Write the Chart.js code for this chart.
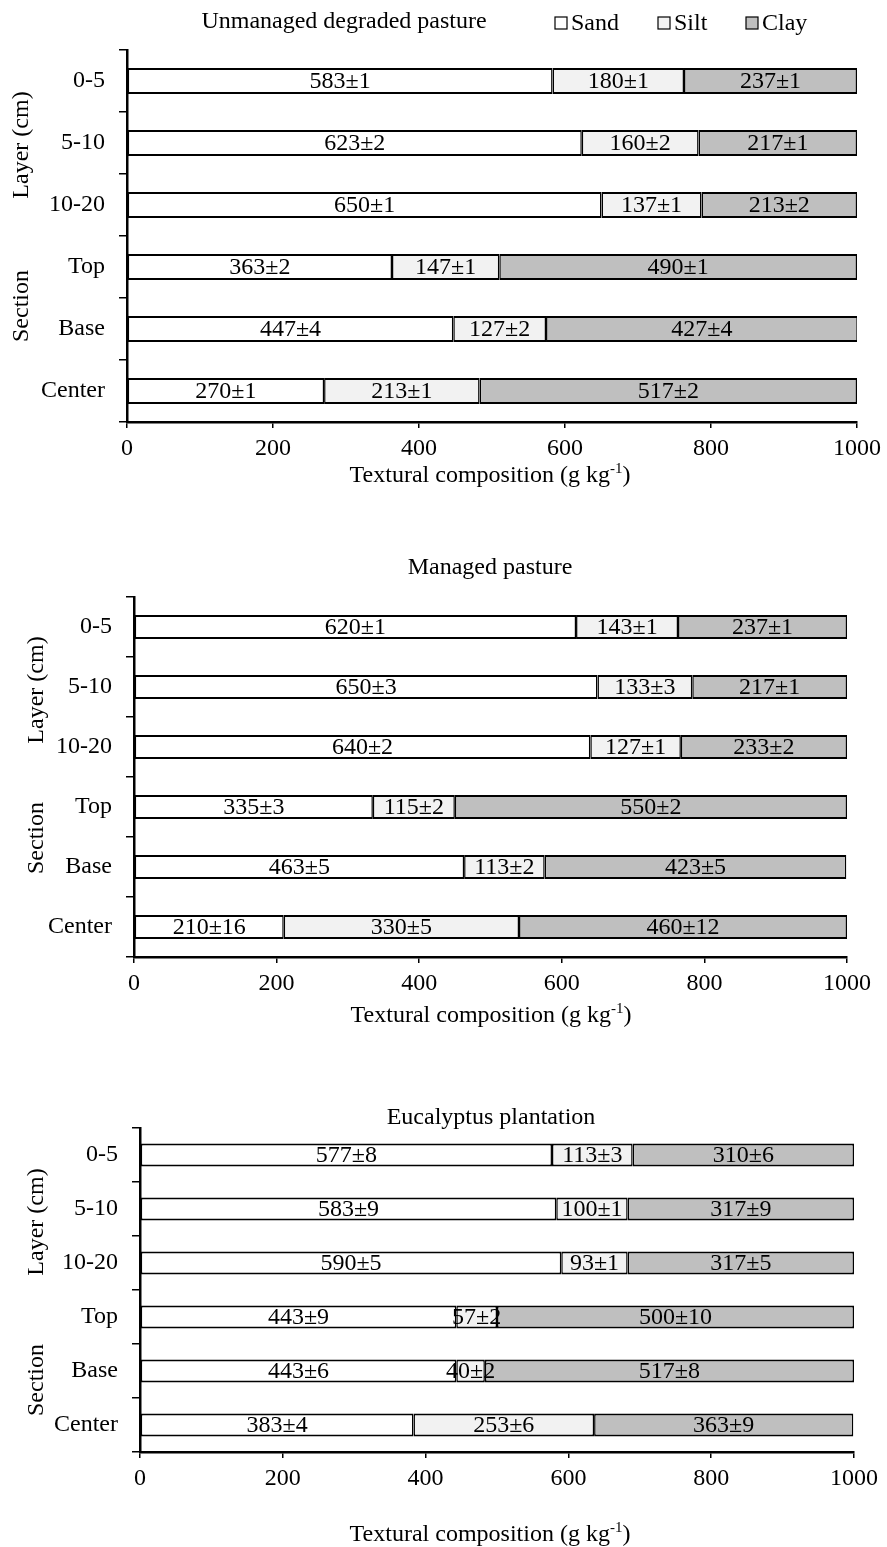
<!DOCTYPE html>
<html>
<head>
<meta charset="utf-8">
<script src="https://cdn.jsdelivr.net/npm/chart.js@4.4.0/dist/chart.umd.min.js"></script>
<style>
  html, body { margin: 0; padding: 0; background: #fff; }
  body { width: 887px; height: 1547px; position: relative; overflow: hidden; }
  .panel { position: absolute; left: 0; width: 887px; }
</style>
</head>
<body>
<div class="panel" style="top:0px;height:500px"><canvas id="c1"></canvas></div>
<div class="panel" style="top:500px;height:530px"><canvas id="c2"></canvas></div>
<div class="panel" style="top:1030px;height:517px"><canvas id="c3"></canvas></div>
<script>
// ---------- DATA ----------
const categories = ['0-5', '5-10', '10-20', 'Top', 'Base', 'Center'];
const seriesNames = ['Sand', 'Silt', 'Clay'];
const xTicks = [0, 200, 400, 600, 800, 1000];

// Unmanaged degraded pasture
const p1Sand = [583, 623, 650, 363, 447, 270];
const p1SandErr = [1, 2, 1, 2, 4, 1];
const p1Silt = [180, 160, 137, 147, 127, 213];
const p1SiltErr = [1, 2, 1, 1, 2, 1];
const p1Clay = [237, 217, 213, 490, 427, 517];
const p1ClayErr = [1, 1, 2, 1, 4, 2];

// Managed pasture
const p2Sand = [620, 650, 640, 335, 463, 210];
const p2SandErr = [1, 3, 2, 3, 5, 16];
const p2Silt = [143, 133, 127, 115, 113, 330];
const p2SiltErr = [1, 3, 1, 2, 2, 5];
const p2Clay = [237, 217, 233, 550, 423, 460];
const p2ClayErr = [1, 1, 2, 2, 5, 12];

// Eucalyptus plantation
const p3Sand = [577, 583, 590, 443, 443, 383];
const p3SandErr = [8, 9, 5, 9, 6, 4];
const p3Silt = [113, 100, 93, 57, 40, 253];
const p3SiltErr = [3, 1, 1, 2, 2, 6];
const p3Clay = [310, 317, 317, 500, 517, 363];
const p3ClayErr = [6, 9, 5, 10, 8, 9];

// ---------- STYLE ----------
const FONT = "'Liberation Serif', 'Times New Roman', serif";
const FS = 24;
const COLORS = ['#ffffff', '#f2f2f2', '#bfbfbf'];

Chart.defaults.font.family = FONT;
Chart.defaults.font.size = FS;
Chart.defaults.color = '#000';

const panelPlugin = {
  id: 'panelText',
  afterDatasetsDraw(chart) {
    const ctx = chart.ctx;
    ctx.save();
    ctx.fillStyle = '#000';
    ctx.font = FS + 'px ' + FONT;
    ctx.textAlign = 'center';
    ctx.textBaseline = 'middle';
    chart.data.datasets.forEach((ds, i) => {
      const meta = chart.getDatasetMeta(i);
      meta.data.forEach((bar, j) => {
        const cx = (bar.x + bar.base) / 2;
        ctx.fillText(ds.data[j] + '\u00b1' + ds.errors[j], cx, bar.y + 1);
      });
    });
    ctx.restore();
  },
  afterDraw(chart, args, o) {
    const ctx = chart.ctx;
    ctx.save();
    ctx.fillStyle = '#000';
    ctx.font = FS + 'px ' + FONT;
    ctx.textAlign = 'center';
    ctx.textBaseline = 'middle';
    // panel title
    ctx.fillText(o.title, o.titleX, o.titleY);
    // y group titles
    o.groups.forEach(g => {
      ctx.save();
      ctx.translate(o.groupX, g.y);
      ctx.rotate(-Math.PI / 2);
      ctx.fillText(g.text, 0, 0);
      ctx.restore();
    });
    // x axis title with superscript
    const t1 = 'Textural composition (g kg', sup = '-1', t3 = ')';
    ctx.textAlign = 'left';
    ctx.textBaseline = 'alphabetic';
    ctx.font = FS + 'px ' + FONT;
    const w1 = ctx.measureText(t1).width;
    const w3 = ctx.measureText(t3).width;
    ctx.font = '15px ' + FONT;
    const w2 = ctx.measureText(sup).width;
    let x = o.xTitleX - (w1 + w2 + w3) / 2;
    const by = o.xTitleY + 8;
    ctx.font = FS + 'px ' + FONT;
    ctx.fillText(t1, x, by);
    x += w1;
    ctx.font = '15px ' + FONT;
    ctx.fillText(sup, x, by - 9);
    x += w2;
    ctx.font = FS + 'px ' + FONT;
    ctx.fillText(t3, x, by);
    // legend
    if (o.legend) {
      ctx.textBaseline = 'middle';
      chart.data.datasets.forEach((ds, i) => {
        const lx = o.legend.x[i], ly = o.legend.y;
        ctx.fillStyle = ds.backgroundColor;
        ctx.fillRect(lx, ly - 6, 12, 12);
        ctx.strokeStyle = '#000';
        ctx.lineWidth = 1.2;
        ctx.strokeRect(lx, ly - 6, 12, 12);
        ctx.fillStyle = '#000';
        ctx.fillText(ds.label, lx + 16, ly + 1);
      });
    }
    ctx.restore();
  }
};

function makeChart(id, H, area, barPct, sets, textOpts) {
  const padL = 4, xH = 34;
  const yW = area.left - padL;
  return new Chart(document.getElementById(id), {
    type: 'bar',
    data: {
      labels: categories,
      datasets: sets.map((s, i) => ({
        label: seriesNames[i],
        data: s[0],
        errors: s[1],
        backgroundColor: COLORS[i],
        borderColor: '#000',
        borderWidth: { top: 2, bottom: 2, left: 1.5, right: 1.5 },
        borderSkipped: false,
        barPercentage: barPct,
        categoryPercentage: 1.0
      }))
    },
    options: {
      indexAxis: 'y',
      responsive: true,
      maintainAspectRatio: false,
      animation: false,
      events: [],
      layout: {
        padding: {
          left: padL,
          right: 887 - area.right,
          top: area.top,
          bottom: H - area.bottom - xH
        }
      },
      plugins: {
        legend: { display: false },
        title: { display: false },
        tooltip: { enabled: false },
        panelText: textOpts
      },
      scales: {
        x: {
          type: 'linear',
          stacked: true,
          min: 0,
          max: 1000,
          afterFit: s => { s.height = xH; },
          afterBuildTicks: s => { s.ticks = xTicks.map(v => ({ value: v })); },
          ticks: { padding: 6, maxRotation: 0, font: { size: FS }, callback: v => String(v) },
          grid: { drawOnChartArea: false, color: '#000', lineWidth: 1.5, tickLength: 6 },
          border: { color: '#000', width: 2.5 }
        },
        y: {
          type: 'category',
          stacked: true,
          offset: true,
          afterFit: s => { s.width = yW; },
          ticks: { padding: 14, autoSkip: false, font: { size: FS } },
          grid: { offset: true, drawOnChartArea: false, color: '#000', lineWidth: 1.5, tickLength: 8 },
          border: { color: '#000', width: 2.5 }
        }
      }
    },
    plugins: [panelPlugin]
  });
}

makeChart('c1', 500, { left: 127, right: 857, top: 50, bottom: 422 }, 0.42,
  [[p1Sand, p1SandErr], [p1Silt, p1SiltErr], [p1Clay, p1ClayErr]],
  {
    title: 'Unmanaged degraded pasture', titleX: 344, titleY: 22,
    groupX: 22, groups: [{ text: 'Layer (cm)', y: 145 }, { text: 'Section', y: 306 }],
    xTitleX: 490, xTitleY: 474,
    legend: { x: [555, 658, 746], y: 23 }
  });

makeChart('c2', 530, { left: 134, right: 847, top: 97, bottom: 457 }, 0.40,
  [[p2Sand, p2SandErr], [p2Silt, p2SiltErr], [p2Clay, p2ClayErr]],
  {
    title: 'Managed pasture', titleX: 490, titleY: 68,
    groupX: 37, groups: [{ text: 'Layer (cm)', y: 190 }, { text: 'Section', y: 338 }],
    xTitleX: 491, xTitleY: 514
  });

makeChart('c3', 517, { left: 140, right: 854, top: 98, bottom: 422 }, 0.43,
  [[p3Sand, p3SandErr], [p3Silt, p3SiltErr], [p3Clay, p3ClayErr]],
  {
    title: 'Eucalyptus plantation', titleX: 491, titleY: 88,
    groupX: 37, groups: [{ text: 'Layer (cm)', y: 192 }, { text: 'Section', y: 350 }],
    xTitleX: 490, xTitleY: 503
  });
</script>
</body>
</html>
